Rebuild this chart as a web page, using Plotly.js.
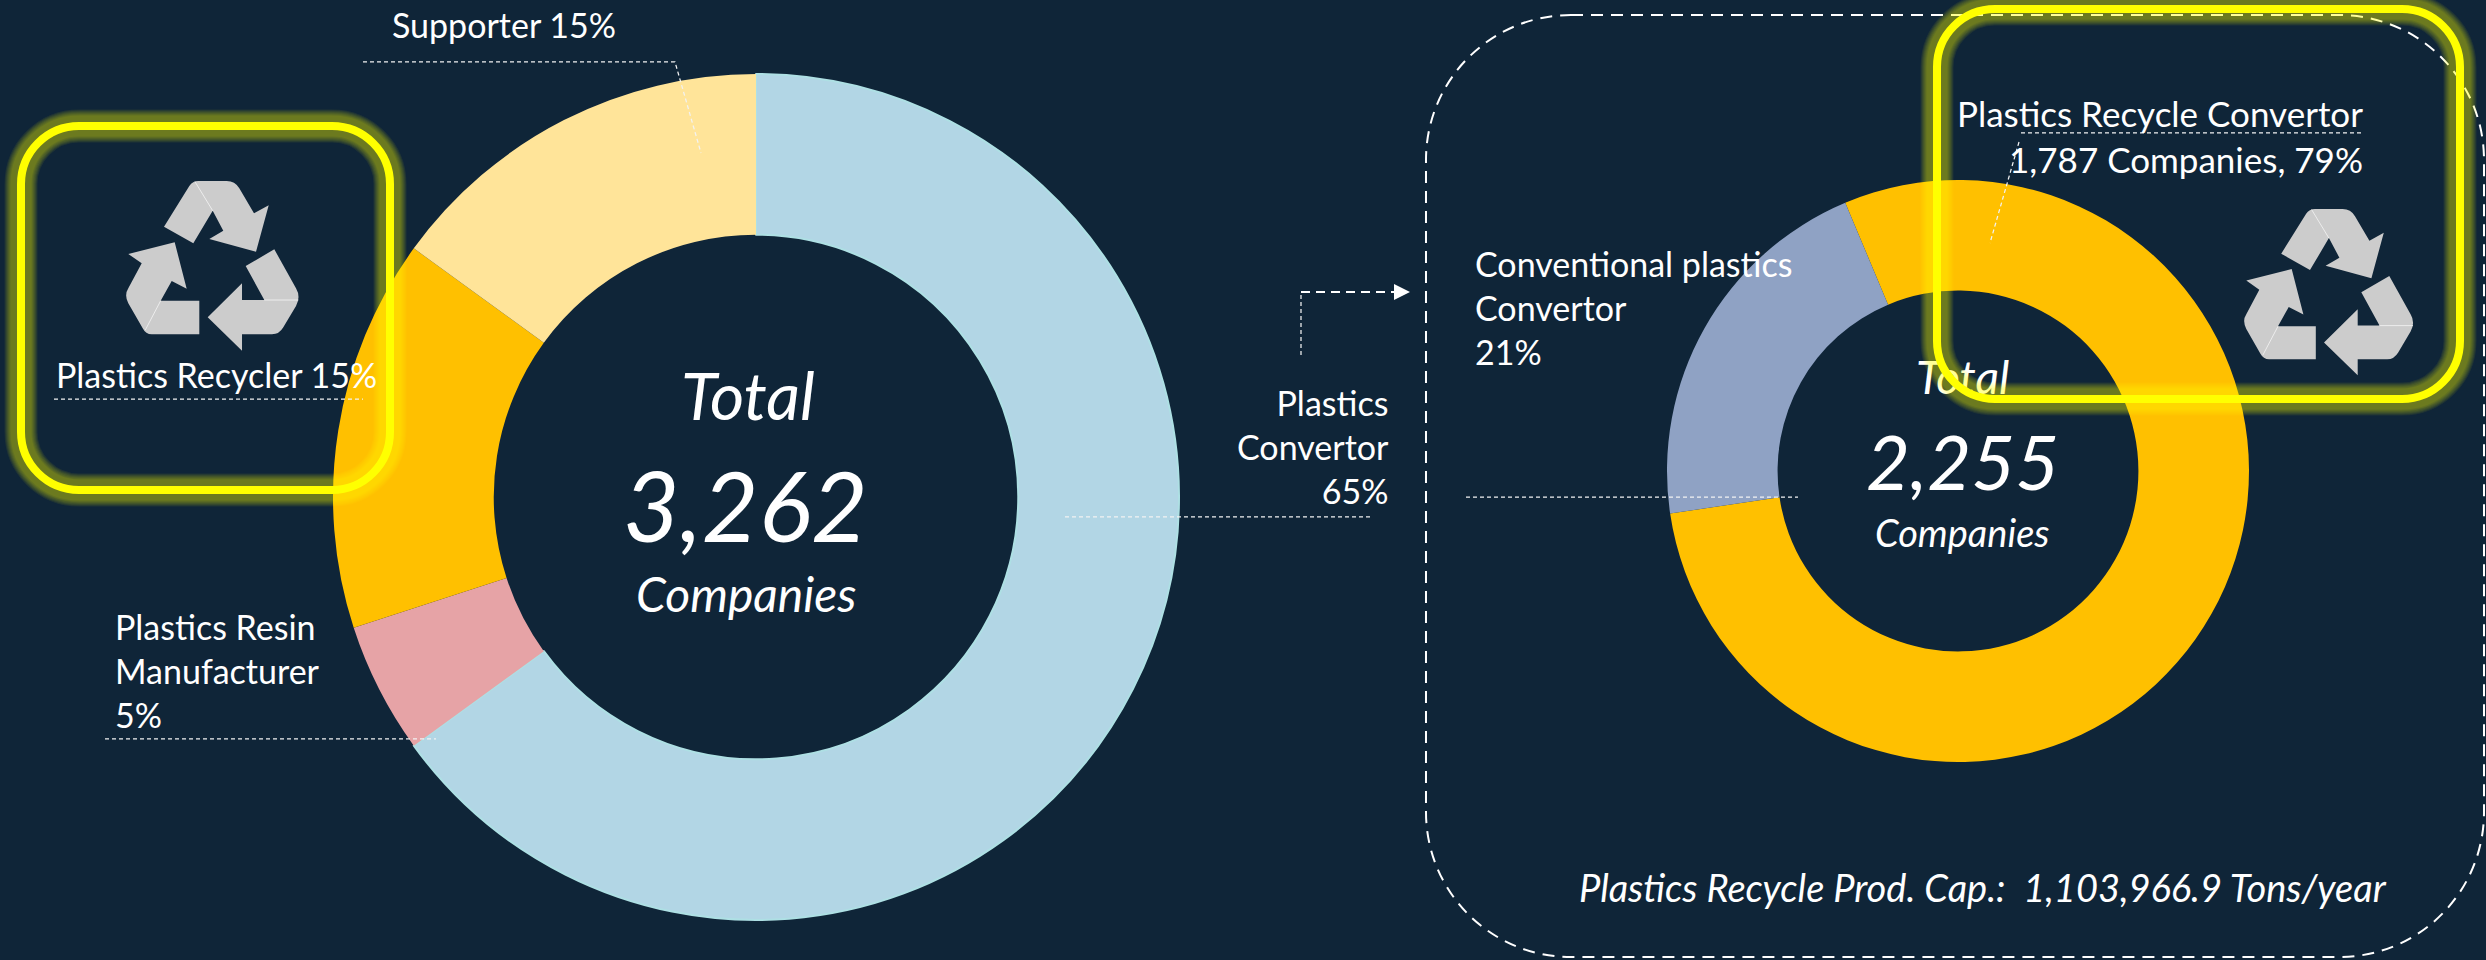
<!DOCTYPE html>
<html>
<head>
<meta charset="utf-8">
<script src="https://cdn.plot.ly/plotly-3.0.1.min.js"></script>
<style>
  html, body { margin: 0; padding: 0; background: #0F2538; overflow: hidden; }
  #stage { position: relative; width: 2486px; height: 960px; }
  #chart, #frames { position: absolute; left: 0; top: 0; width: 2486px; height: 960px; }
  #frames { pointer-events: none; }
  .annotation-text { font-variant-ligatures: none; }
</style>
</head>
<body>
<div id="stage">
  <div id="chart"></div>
  <div id="frames"></div>
</div>
<script>
// Membership by business type (share of all companies, %)
const memberLabels = ['Plastics Convertor', 'Plastics Resin Manufacturer', 'Plastics Recycler', 'Supporter'];
const memberShares = [65, 5, 15, 15];
const memberColors = ['#B2D6E5', '#E6A3A6', '#FFC000', '#FFE499'];
const memberEdgeColors = ['#AEE0E4', '#E6A3A6', '#FFC000', '#FFE499'];
const memberEdgeWidths = [2, 0, 0, 0];

// Plastics convertors split by what they process (share of convertors, %)
const convertorLabels = ['Plastics Recycle Convertor', 'Conventional plastics Convertor'];
const convertorShares = [79, 21];
const convertorColors = ['#FFC000', '#8FA2C4'];

const W = 2486, H = 960;
const BG = '#0F2538';
const FONT = 'Lato, "Noto Sans", sans-serif';

// Pixel position -> paper fractions
const fx = x => +(x / W).toFixed(5);
const fy = y => +(1 - y / H).toFixed(5);
const toPaper = d => d.replace(/(-?\d+(?:\.\d+)?) (-?\d+(?:\.\d+)?)/g, (m, a, b) => fx(+a) + ',' + fy(+b));

function donut(labels, values, colors, cx, cy, r, extra) {
  return Object.assign({
    type: 'pie', labels, values, sort: false, direction: 'clockwise',
    hole: 0.62, textinfo: 'none', hoverinfo: 'skip', showlegend: false,
    marker: { colors, line: { width: 0 } },
    domain: { x: [(cx - r) / W, (cx + r) / W], y: [1 - (cy + r) / H, 1 - (cy - r) / H] }
  }, extra);
}

const traces = [
  donut(memberLabels, memberShares, memberColors, 756, 497, 423, {
    marker: { colors: memberColors, line: { color: memberEdgeColors, width: memberEdgeWidths } }
  }),
  donut(convertorLabels, convertorShares, convertorColors, 1958, 471, 291, { rotation: -22.8 })
];

function roundedRect(x0, y0, x1, y1, r) {
  const k = r * 0.4477;
  return `M${x0 + r} ${y0} L${x1 - r} ${y0} C${x1 - k} ${y0} ${x1} ${y0 + k} ${x1} ${y0 + r} ` +
         `L${x1} ${y1 - r} C${x1} ${y1 - k} ${x1 - k} ${y1} ${x1 - r} ${y1} ` +
         `L${x0 + r} ${y1} C${x0 + k} ${y1} ${x0} ${y1 - k} ${x0} ${y1 - r} ` +
         `L${x0} ${y0 + r} C${x0} ${y0 + k} ${x0 + k} ${y0} ${x0 + r} ${y0} Z`;
}

function pathShape(d, line, fillcolor) {
  return { type: 'path', xref: 'paper', yref: 'paper', layer: 'above', path: toPaper(d),
           line, fillcolor: fillcolor || 'rgba(0,0,0,0)' };
}

// Recycling symbol: three folded arrows plus their fold creases
const recycleArrows = [
  'M492 380 L568 258 Q578 243 595 243 L680 243 Q705 243 718 265 L762 340 L806 316 L768 455 L628 417 L670 392 L638 332 L580 430 Z',
  'M737 498 L823 448 L888 565 Q903 590 888 618 L850 682 Q838 703 816 703 L726 703 L726 752 L623 652 L726 550 L726 600 L793 600 Z',
  'M385 462 L524 427 L560 566 L515 543 L482 602 L598 602 L598 703 L455 703 Q437 703 428 685 L385 610 Q372 585 385 565 L425 490 Z'
];
const recycleCreases = [
  'M585 245 L638 332',
  'M793 600 L895 600',
  'M482 602 L436 690'
];

function recycleIcon(ox, oy, s) {
  const place = d => d.replace(/(-?\d+) (-?\d+)/g, (m, a, b) => (ox + a * s).toFixed(1) + ' ' + (oy + b * s).toFixed(1));
  return [
    ...recycleArrows.map(d => pathShape(place(d), { width: 0 }, '#CCCCCC')),
    ...recycleCreases.map(d => pathShape(place(d), { color: '#EDEDED', width: 1 }))
  ];
}

const thin = { color: '#F2F2F2', width: 1.25, dash: '4px,3px' };

const shapes = [
  // Dashed enclosure of the convertor breakdown
  pathShape(roundedRect(1426, 15, 2484, 957, 145), { color: '#FFFFFF', width: 2, dash: '12px,8px' }),
  // Leader lines
  pathShape('M363 62 L675 62 L701 153', thin),
  pathShape('M54 399 L363 399', thin),
  pathShape('M105 739 L436 739', thin),
  pathShape('M1065 517 L1372 517', thin),
  pathShape('M1466 497 L1798 497', thin),
  pathShape('M2021 133 L2363 133', thin),
  pathShape('M2019 142 L1990 243', thin),
  // Arrow from the convertor slice to its breakdown
  pathShape('M1301 355 L1301 292', thin),
  pathShape('M1301 292 L1394 292', { color: '#FFFFFF', width: 2, dash: '9px,6px' }),
  pathShape('M1394 284 L1410 292 L1394 300 Z', { width: 0 }, '#FFFFFF'),
  // Recycling symbols
  ...recycleIcon(0, 100, 1 / 3),
  ...recycleIcon(2120.5, 129.6, 0.98 / 3)
];

function label(text, x, y, size, anchor) {
  return {
    text, xref: 'paper', yref: 'paper', x: fx(x), y: fy(y), showarrow: false,
    xanchor: anchor, yanchor: 'middle', align: anchor,
    borderpad: 0, font: { family: FONT, color: '#FFFFFF', size }
  };
}

const labels = [
  label('Supporter 15%', 391, 24, 34, 'left'),
  label('Plastics Recycler 15%', 55, 375, 34, 'left'),
  label('Plastics Resin<br>Manufacturer<br>5%', 114, 670, 34, 'left'),
  label('Plastics<br>Convertor<br>65%', 1390, 447, 34, 'right'),
  label('Conventional plastics<br>Convertor<br>21%', 1474, 308, 34, 'left'),
  label('Plastics Recycle Convertor<br>1,787 Companies, 79%', 2364, 136, 35, 'right'),
  label('<i>Total</i>', 748, 394, 66, 'center'),
  label('<i>3,262</i>', 745, 504, 98, 'center'),
  label('<i>Companies</i>', 746, 593, 48, 'center'),
  label('<i>Total</i>', 1963, 376, 46, 'center'),
  label('<i>2,255</i>', 1963, 460, 76, 'center'),
  label('<i>Companies</i>', 1963, 532, 38, 'center'),
  label('<i>Plastics Recycle Prod. Cap.:  1,103,966.9 Tons/year</i>', 1983, 887, 38, 'center')
];

const baseLayout = {
  width: W, height: H, margin: { l: 0, r: 0, t: 0, b: 0 },
  paper_bgcolor: BG, plot_bgcolor: BG
};

Plotly.newPlot('chart', traces, Object.assign({}, baseLayout, { shapes, annotations: labels }),
  { staticPlot: true, displayModeBar: false });

// Highlight frames: a stack of translucent strokes gives the soft halo,
// drawn in their own transparent layer so they sit over the labels.
const frameOutlines = [roundedRect(21, 126, 390, 490, 58), roundedRect(1937, 9, 2460, 399, 58)];
const haloWidths = [33, 31, 29, 27, 25, 23, 21];
const frameShapes = [];
frameOutlines.forEach(d => {
  haloWidths.forEach(w => frameShapes.push(pathShape(d, { color: 'rgba(255,255,0,0.07)', width: w })));
  frameShapes.push(pathShape(d, { color: '#FFFF00', width: 8 }));
});

Plotly.newPlot('frames', [], {
  width: W, height: H, margin: { l: 0, r: 0, t: 0, b: 0 },
  paper_bgcolor: 'rgba(0,0,0,0)', plot_bgcolor: 'rgba(0,0,0,0)',
  xaxis: { visible: false }, yaxis: { visible: false },
  shapes: frameShapes
}, { staticPlot: true, displayModeBar: false });
</script>
</body>
</html>
